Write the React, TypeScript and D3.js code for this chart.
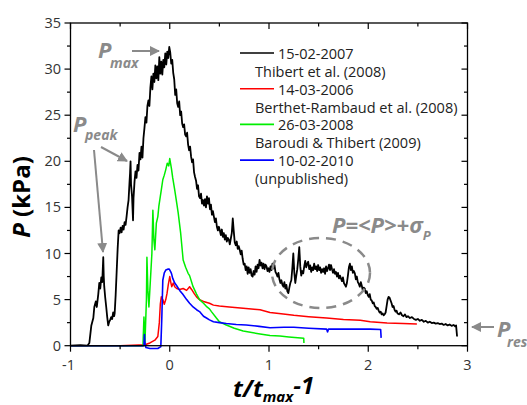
import React from "react";
import * as d3 from "d3";

const blackT = [-1, -0.9, -0.83, -0.81, -0.79, -0.77, -0.76, -0.745, -0.735, -0.72, -0.71, -0.7, -0.69, -0.68, -0.67, -0.665, -0.66, -0.65, -0.64, -0.63, -0.62, -0.61, -0.6, -0.59, -0.58, -0.57, -0.56, -0.555, -0.545, -0.535, -0.525, -0.515, -0.505, -0.495, -0.485, -0.475, -0.465, -0.455, -0.445, -0.435, -0.425, -0.415, -0.405, -0.4, -0.395, -0.39, -0.38, -0.37, -0.365, -0.355, -0.345, -0.335, -0.325, -0.315, -0.305, -0.295, -0.285, -0.275, -0.265, -0.255, -0.245, -0.235, -0.225, -0.215, -0.205, -0.195, -0.185, -0.175, -0.165, -0.155, -0.145, -0.135, -0.125, -0.115, -0.105, -0.095, -0.085, -0.075, -0.065, -0.055, -0.045, -0.035, -0.025, -0.015, -0.005, 0.005, 0.015, 0.025, 0.035, 0.045, 0.055, 0.065, 0.075, 0.085, 0.095, 0.105, 0.115, 0.125, 0.135, 0.145, 0.155, 0.165, 0.175, 0.185, 0.195, 0.205, 0.215, 0.225, 0.235, 0.245, 0.255, 0.265, 0.275, 0.285, 0.295, 0.305, 0.315, 0.325, 0.335, 0.345, 0.355, 0.365, 0.375, 0.385, 0.395, 0.405, 0.415, 0.425, 0.435, 0.445, 0.455, 0.465, 0.475, 0.485, 0.495, 0.505, 0.515, 0.525, 0.535, 0.545, 0.555, 0.565, 0.575, 0.585, 0.595, 0.605, 0.615, 0.625, 0.635, 0.645, 0.655, 0.665, 0.675, 0.685, 0.695, 0.705, 0.715, 0.725, 0.735, 0.745, 0.755, 0.765, 0.775, 0.785, 0.795, 0.805, 0.815, 0.825, 0.835, 0.845, 0.855, 0.865, 0.875, 0.885, 0.895, 0.905, 0.915, 0.925, 0.935, 0.945, 0.955, 0.965, 0.975, 0.985, 0.995, 1.005, 1.015, 1.025, 1.035, 1.045, 1.055, 1.065, 1.075, 1.085, 1.095, 1.105, 1.115, 1.125, 1.135, 1.145, 1.155, 1.165, 1.175, 1.185, 1.195, 1.205, 1.215, 1.225, 1.235, 1.245, 1.255, 1.265, 1.275, 1.285, 1.295, 1.305, 1.315, 1.325, 1.335, 1.345, 1.355, 1.365, 1.375, 1.385, 1.395, 1.405, 1.415, 1.425, 1.435, 1.445, 1.455, 1.465, 1.475, 1.485, 1.495, 1.505, 1.515, 1.525, 1.535, 1.545, 1.555, 1.565, 1.575, 1.585, 1.595, 1.605, 1.615, 1.625, 1.635, 1.645, 1.655, 1.665, 1.675, 1.685, 1.695, 1.705, 1.715, 1.725, 1.735, 1.745, 1.755, 1.765, 1.775, 1.785, 1.795, 1.805, 1.815, 1.825, 1.835, 1.845, 1.855, 1.865, 1.875, 1.885, 1.895, 1.905, 1.915, 1.925, 1.935, 1.945, 1.955, 1.965, 1.975, 1.985, 1.995, 2.005, 2.015, 2.025, 2.035, 2.045, 2.055, 2.065, 2.075, 2.085, 2.095, 2.105, 2.115, 2.125, 2.135, 2.145, 2.155, 2.165, 2.175, 2.185, 2.195, 2.205, 2.215, 2.225, 2.235, 2.245, 2.255, 2.265, 2.275, 2.285, 2.295, 2.31, 2.325, 2.34, 2.355, 2.37, 2.385, 2.4, 2.42, 2.44, 2.46, 2.48, 2.5, 2.52, 2.54, 2.56, 2.58, 2.6, 2.62, 2.64, 2.66, 2.68, 2.7, 2.72, 2.74, 2.76, 2.78, 2.8, 2.82, 2.84, 2.86, 2.875, 2.885, 2.895];
const blackP = [0, 0.05, 0, 0.3, 2.2, 3.0, 4.2, 4.8, 4.2, 5.6, 6.8, 6.2, 7.4, 6.9, 9.6, 7.5, 6.4, 5.2, 4.2, 3.1, 2.2, 2.6, 2.8, 3.1, 2.9, 3.6, 3.2, 3.5, 5.5, 8.0, 10.5, 12.5, 12.2, 12.8, 12.3, 13.0, 12.6, 13.4, 13.1, 14.0, 15.0, 15.8, 17.8, 18.7, 20.0, 17.5, 16.2, 13.6, 16.0, 17.8, 18.9, 18.2, 19.6, 19.0, 20.9, 20.2, 21.6, 20.4, 22.5, 23.6, 24.8, 24.2, 26.0, 26.6, 26.0, 28.0, 29.2, 27.8, 29.5, 28.6, 30.4, 29.0, 30.3, 28.8, 31.3, 29.5, 30.8, 29.4, 31.0, 30.2, 31.7, 30.5, 31.9, 31.2, 32.4, 31.8, 30.6, 31.0, 29.6, 28.9, 27.2, 27.8, 26.3, 25.9, 26.5, 25.0, 25.4, 24.1, 23.7, 24.0, 22.9, 22.7, 23.1, 21.8, 21.2, 21.6, 20.5, 19.9, 20.2, 18.8, 18.3, 17.9, 17.0, 17.4, 16.2, 16.0, 16.5, 15.4, 15.8, 15.2, 15.9, 15.0, 16.2, 15.4, 16.0, 14.8, 15.3, 14.2, 14.6, 14.0, 13.4, 13.8, 12.9, 12.5, 12.9, 12.5, 12.0, 12.6, 11.8, 12.2, 11.5, 12.0, 11.3, 11.7, 11.5, 11.0, 11.6, 12.2, 13.8, 12.4, 11.2, 10.9, 11.3, 10.5, 10.8, 10.4, 9.9, 10.3, 9.4, 8.8, 8.9, 8.2, 8.6, 7.8, 8.5, 7.9, 8.3, 7.6, 7.5, 8.1, 7.7, 8.6, 8.0, 8.8, 8.4, 9.3, 8.7, 9.0, 8.4, 8.9, 8.3, 8.8, 8.6, 8.1, 8.4, 8.0, 8.6, 8.2, 8.9, 8.4, 8.75, 8.0, 7.8, 7.5, 7.9, 7.2, 6.8, 7.1, 6.6, 6.4, 6.9, 6.2, 6.6, 5.9, 5.7, 6.3, 6.8, 7.1, 8.4, 10.0, 7.9, 6.8, 7.6, 8.3, 9.4, 10.7, 8.6, 7.6, 8.1, 7.85, 8.6, 9.2, 8.5, 8.9, 9.1, 8.3, 8.7, 8.0, 8.5, 8.2, 8.9, 8.3, 8.6, 8.1, 8.75, 8.2, 8.5, 7.9, 8.3, 8.0, 8.4, 7.8, 8.6, 8.1, 8.4, 8.8, 8.2, 8.75, 8.3, 7.9, 8.3, 7.8, 8.0, 7.5, 7.9, 7.3, 7.6, 7.3, 7.0, 7.4, 6.8, 6.6, 6.4, 6.8, 7.6, 8.5, 8.9, 8.2, 8.6, 7.9, 8.1, 7.85, 7.2, 7.5, 6.9, 6.7, 6.4, 6.9, 6.5, 6.0, 6.3, 6.2, 5.7, 5.9, 5.5, 5.3, 5.6, 5.0, 4.9, 4.6, 4.7, 4.3, 4.2, 4.0, 4.1, 3.8, 3.6, 3.7, 3.4, 3.5, 3.3, 3.4, 3.6, 4.3, 5.0, 5.3, 5.2, 4.9, 4.6, 4.2, 4.3, 3.9, 3.7, 3.8, 3.5, 3.4, 3.6, 3.3, 3.2, 3.4, 3.1, 3.2, 3.0, 3.1, 2.9, 2.8, 2.9, 2.7, 2.8, 2.6, 2.7, 2.5, 2.6, 2.45, 2.5, 2.4, 2.45, 2.35, 2.4, 2.25, 2.35, 2.2, 2.3, 2.15, 2.25, 2.1, 2.2, 1.0];

const redT = [-1, -0.5, -0.25, -0.2, -0.15, -0.12, -0.105, -0.095, -0.085, -0.07, -0.055, -0.04, -0.027, -0.015, 0, 0.01, 0.02, 0.035, 0.05, 0.07, 0.1, 0.135, 0.17, 0.2, 0.22, 0.25, 0.27, 0.3, 0.34, 0.4, 0.44, 0.5, 0.6, 0.74, 0.85, 0.91, 1.01, 1.1, 1.25, 1.4, 1.58, 1.75, 1.92, 2.02, 2.19, 2.35, 2.49];
const redP = [0, 0, 0.1, 0.3, 0.6, 1.0, 2.5, 4.5, 5.3, 5.0, 4.5, 5.0, 5.7, 6.6, 7.5, 6.9, 6.4, 6.8, 6.4, 6.2, 6.1, 6.2, 6.0, 6.4, 6.1, 5.6, 5.3, 5.0, 4.8, 4.6, 4.4, 4.3, 4.2, 4.05, 3.95, 3.9, 3.6, 3.5, 3.3, 3.15, 3.0, 2.85, 2.75, 2.6, 2.45, 2.4, 2.35];

const greenT = [-1, -0.27, -0.26, -0.25, -0.235, -0.23, -0.22, -0.21, -0.195, -0.18, -0.17, -0.16, -0.15, -0.135, -0.12, -0.11, -0.095, -0.085, -0.07, -0.055, -0.04, -0.025, -0.01, 0, 0.017, 0.03, 0.05, 0.07, 0.085, 0.11, 0.135, 0.16, 0.185, 0.2, 0.235, 0.27, 0.3, 0.34, 0.375, 0.4, 0.42, 0.47, 0.5, 0.57, 0.65, 0.74, 0.91, 1.01, 1.11, 1.2, 1.35, 1.352];
const greenP = [0, 0, 3.1, 0.3, 5, 9.6, 6, 4.2, 7.1, 10, 14.7, 11.5, 10.4, 13.3, 14, 15.1, 16.2, 16.9, 18.0, 18.5, 19.1, 19.8, 19.5, 20.3, 19.2, 18.2, 16.9, 15.5, 14.4, 12.2, 9.3, 8.5, 7.85, 7.6, 6.4, 5.6, 5.0, 4.6, 4.2, 4.0, 3.7, 3.0, 2.6, 2.25, 1.9, 1.6, 1.27, 1.1, 1.05, 0.95, 0.8, 0.3];

const blueT = [-1, -0.26, -0.255, -0.25, -0.24, -0.2, -0.15, -0.12, -0.09, -0.08, -0.07, -0.055, -0.04, -0.02, -0.005, 0.01, 0.017, 0.03, 0.05, 0.07, 0.1, 0.13, 0.17, 0.2, 0.235, 0.27, 0.3, 0.34, 0.37, 0.4, 0.44, 0.5, 0.57, 0.67, 0.77, 0.9, 1.01, 1.15, 1.25, 1.4, 1.58, 1.59, 1.6, 1.8, 2.02, 2.125, 2.13];
const blueP = [0, 0, 1.2, 0.3, -0.2, -0.3, -0.3, -0.3, -0.1, 3.0, 7.1, 7.9, 8.2, 8.3, 8.3, 8.0, 7.85, 7.3, 6.8, 6.5, 6.0, 5.6, 5.0, 4.6, 4.2, 3.9, 3.7, 3.2, 3.0, 2.8, 2.6, 2.5, 2.4, 2.3, 2.25, 2.1, 1.95, 2.0, 2.0, 1.9, 1.8, 1.5, 1.8, 1.8, 1.8, 1.75, 0.85];

const legendDates = ["15-02-2007", "14-03-2006", "26-03-2008", "10-02-2010"];
const legendRefs = ["Thibert et al. (2008)", "Berthet-Rambaud et al. (2008)", "Baroudi & Thibert (2009)", "(unpublished)"];
const seriesColors = ["#000000", "#ff0000", "#00ee00", "#0000ff"];
const seriesWidths = [1.8, 1.5, 1.5, 1.6];

const xTicks = [-1, 0, 1, 2, 3];
const yTicks = [0, 5, 10, 15, 20, 25, 30, 35];

const W = 527, H = 405;
const FONT = "'Open Sans', 'DejaVu Sans', sans-serif";
const GRAY = "#8a8a8a";

export default function App() {
  const x = d3.scaleLinear().domain([-1, 3]).range([70.5, 467.5]);
  const y = d3.scaleLinear().domain([0, 35]).range([345.7, 23]);
  const line = d3.line<[number, number]>().x(d => x(d[0])).y(d => y(d[1]));
  const series = [
    [blackT, blackP], [redT, redP], [greenT, greenP], [blueT, blueP],
  ];
  const xMinor = d3.range(-1, 3.01, 0.5);
  const yMinor = d3.range(0, 35.01, 2.5);
  const x0 = x(-1), x1 = x(3), y0 = y(0), y1 = y(35);

  return (
    <svg width={W} height={H} style={{ position: "absolute", left: 0, top: 0 }}>
      <defs>
        <marker id="ah" viewBox="0 0 10 10" refX="9" refY="5" markerWidth="5" markerHeight="5" orient="auto">
          <path d="M0,0 L10,5 L0,10 z" fill={GRAY} />
        </marker>
      </defs>
      <rect width={W} height={H} fill="#fff" />
      {series.map((s, i) => (
        <path key={i} d={line(s[0].map((t, j) => [t, s[1][j]]) as [number, number][]) || ""}
          fill="none" stroke={seriesColors[i]} strokeWidth={seriesWidths[i]} strokeLinejoin="round" />
      ))}
      <rect x={x0} y={y1} width={x1 - x0} height={y0 - y1} fill="none" stroke="#000" strokeWidth={1.3} />
      {xMinor.map((v, i) => {
        const major = Math.abs(v - Math.round(v)) < 1e-6;
        const len = major ? 6 : 3.5;
        return (
          <g key={"xt" + i}>
            <line x1={x(v)} x2={x(v)} y1={y0} y2={y0 + len} stroke="#000" strokeWidth={1.2} />
            <line x1={x(v)} x2={x(v)} y1={y1} y2={y1 + len} stroke="#000" strokeWidth={1.2} />
          </g>
        );
      })}
      {yMinor.map((v, i) => {
        const major = Math.abs(v / 5 - Math.round(v / 5)) < 1e-6;
        const len = major ? 6 : 3.5;
        return (
          <g key={"yt" + i}>
            <line x1={x0 - len} x2={x0} y1={y(v)} y2={y(v)} stroke="#000" strokeWidth={1.2} />
            <line x1={x1 - len} x2={x1} y1={y(v)} y2={y(v)} stroke="#000" strokeWidth={1.2} />
          </g>
        );
      })}
      {xTicks.map(v => (
        <text key={"xl" + v} x={x(v) - (v < 0 ? 2 : 0)} y={370} textAnchor="middle" fontFamily={FONT} fontSize={14.5} fill="#333">{v}</text>
      ))}
      {yTicks.map(v => (
        <text key={"yl" + v} x={61} y={y(v) + 5} textAnchor="end" fontFamily={FONT} fontSize={14.5} fill="#333">{v}</text>
      ))}
      <text transform="translate(30,197) rotate(-90)" textAnchor="middle" fontFamily={FONT} fontSize={24} fontWeight="bold" fill="#000">
        <tspan fontStyle="italic">P</tspan> (kPa)
      </text>
      <text x={233} y={397} fontFamily={FONT} fontSize={24} fontWeight="bold" fontStyle="italic" fill="#000">
        t/t<tspan fontSize={15} dy={5}>max</tspan><tspan dy={-8}>-1</tspan>
      </text>
      {legendDates.map((d, i) => {
        const ly = 53 + i * 35.7;
        return (
          <g key={"lg" + i}>
            <line x1={240} x2={274} y1={ly} y2={ly} stroke={seriesColors[i]} strokeWidth={1.6} />
            <text x={278} y={ly + 6} fontFamily={FONT} fontSize={14.5} fill="#222">{d}</text>
            <text x={255} y={ly + 24} fontFamily={FONT} fontSize={14.5} fill="#222">{legendRefs[i]}</text>
          </g>
        );
      })}
      <g fill={GRAY} fontFamily={FONT} fontWeight="bold" fontStyle="italic">
        <text x={98} y={58} fontSize={22}>P</text>
        <text x={110} y={68} fontSize={14}>max</text>
        <text x={73} y={132} fontSize={22}>P</text>
        <text x={85} y={140} fontSize={14}>peak</text>
        <text x={332} y={233} fontSize={22}>P=&lt;P&gt;+σ<tspan fontSize={13} dy={7}>P</tspan></text>
        <text x={497} y={337} fontSize={22}>P</text>
        <text x={507} y={347} fontSize={14}>res</text>
      </g>
      <g stroke={GRAY} strokeWidth={2} fill="none">
        <line x1={132} y1={51} x2={159} y2={51} markerEnd="url(#ah)" />
        <line x1={101} y1={147} x2={127} y2={161} markerEnd="url(#ah)" />
        <line x1={94} y1={150} x2={103} y2={252} markerEnd="url(#ah)" />
        <line x1={494} y1={327} x2={472} y2={327} markerEnd="url(#ah)" />
      </g>
      <ellipse cx={321} cy={273} rx={49} ry={35} fill="none" stroke={GRAY} strokeWidth={2.5} strokeDasharray="10 7" />
    </svg>
  );
}
